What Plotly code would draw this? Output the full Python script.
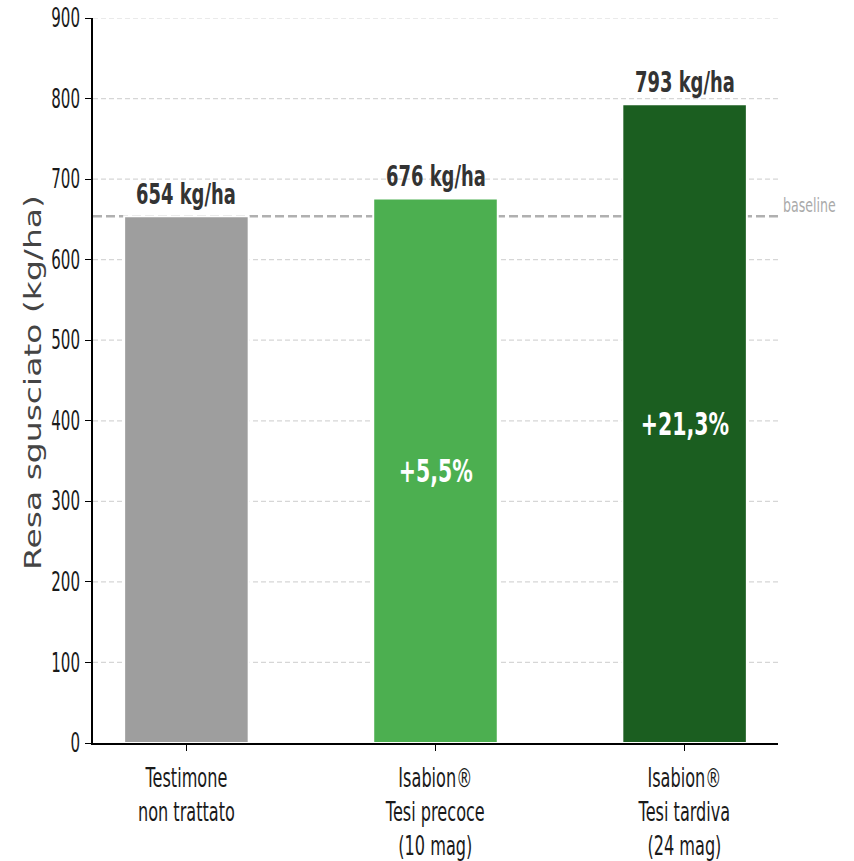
import plotly.graph_objects as go

categories = ["Testimone<br>non trattato", "Isabion®<br>Tesi precoce<br>(10 mag)", "Isabion®<br>Tesi tardiva<br>(24 mag)"]
values = [654, 676, 793]
value_labels = ["654 kg/ha", "676 kg/ha", "793 kg/ha"]
pct_labels = ["", "+5,5%", "+21,3%"]
colors = ["#9E9E9E", "#4CAF50", "#1B5E20"]
baseline = 654
y_ticks = [0, 100, 200, 300, 400, 500, 600, 700, 800, 900]

FONT = "DejaVu Sans, sans-serif"

x_pos = list(range(len(categories)))

fig = go.Figure()
fig.add_trace(go.Bar(
    x=x_pos, y=values, width=0.5,
    marker=dict(color=colors, line=dict(color="white", width=2)),
    hoverinfo="skip", showlegend=False,
))

for t in y_ticks[1:]:
    fig.add_shape(type="line", xref="paper", x0=0, x1=1, yref="y", y0=t, y1=t,
                  line=dict(color="#d6d6d6", width=1.2, dash="5px,3px"), layer="below")

fig.add_shape(type="line", xref="paper", x0=0, x1=1, yref="y", y0=baseline, y1=baseline,
              line=dict(color="#b0b0b0", width=2.5, dash="9px,4px"), layer="below")
fig.add_annotation(xref="paper", x=1.004, y=baseline, yref="y", text="baseline",
                   showarrow=False, xanchor="left", yanchor="middle", yshift=11,
                   font=dict(family=FONT, size=20, color="#aaaaaa"))

for i, v in enumerate(values):
    fig.add_annotation(x=x_pos[i], y=v, text="<b>%s</b>" % value_labels[i], showarrow=False,
                       yanchor="bottom", yshift=3,
                       font=dict(family=FONT, size=28, color="#333333"))
    if pct_labels[i]:
        fig.add_annotation(x=x_pos[i], y=v / 2, text="<b>%s</b>" % pct_labels[i], showarrow=False,
                           yanchor="middle",
                           font=dict(family=FONT, size=32, color="white"))

fig.add_annotation(xref="paper", yref="paper", x=-0.087, y=0.497, text="Resa sgusciato (kg/ha)",
                   textangle=-90, showarrow=False, xanchor="center", yanchor="middle",
                   font=dict(family=FONT, size=33, color="#444444"))

fig.update_layout(
    width=854, height=861,
    margin=dict(l=93, r=76, t=18, b=118, autoexpand=False),
    paper_bgcolor="white", plot_bgcolor="white",
    xaxis=dict(range=[-0.375, 2.375], tickvals=x_pos, ticktext=categories, automargin=False,
               showgrid=False, zeroline=False, showline=True, linecolor="black", linewidth=2,
               ticks="outside", ticklen=6, tickcolor="black", ticklabelstandoff=5,
               tickfont=dict(family=FONT, size=26, color="#1a1a1a")),
    yaxis=dict(range=[0, 900], tickvals=y_ticks, showgrid=False, zeroline=False, automargin=False,
               showline=True, linecolor="black", linewidth=1.5,
               ticks="outside", ticklen=6, tickcolor="black",
               tickfont=dict(family=FONT, size=26, color="#1a1a1a")),
)

post_script = r"""
document.body.style.margin = '0';
function sq(el, kx, ky, mode) {
  var b = el.getBBox();
  var ox = b.x + b.width / 2;
  if (mode === 'right') ox = b.x + b.width;
  if (mode === 'left') ox = b.x;
  var oy = b.y + b.height / 2;
  var old = el.getAttribute('transform') || '';
  el.setAttribute('transform', old + ' translate(' + ox + ',' + oy + ') scale(' + kx + ',' + ky + ') translate(' + (-ox) + ',' + (-oy) + ')');
}
var gd = document.getElementById('{plot_id}');
gd.querySelectorAll('.ytick text').forEach(function (t) { sq(t, 0.58, 1, 'right'); });
gd.querySelectorAll('.xtick text').forEach(function (t) { sq(t, 0.62, 1, 'center'); });
gd.querySelectorAll('.annotation-text').forEach(function (t) {
  var s = t.textContent;
  if (s.indexOf('Resa') === 0) { sq(t, 1, 0.68, 'center'); }
  else if (s === 'baseline') { sq(t, 0.63, 1, 'left'); }
  else { sq(t, 0.64, 1, 'center'); }
});
"""

fig.write_html("out.html", post_script=post_script, config={"displayModeBar": False})
